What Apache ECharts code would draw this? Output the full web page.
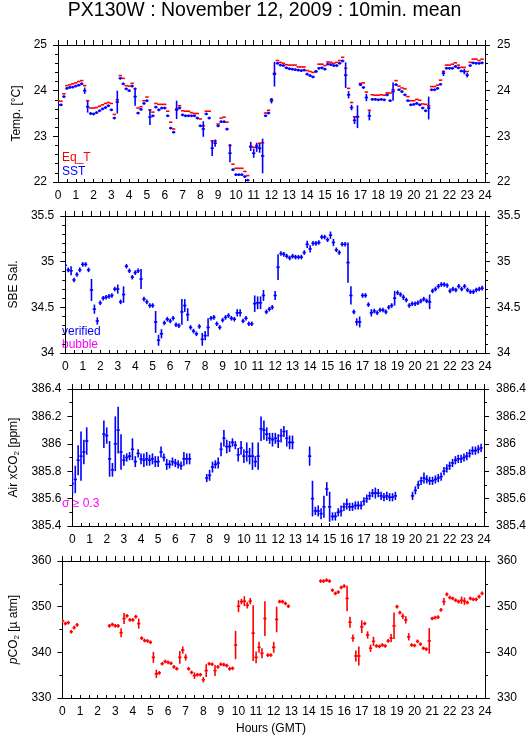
<!DOCTYPE html>
<html><head><meta charset="utf-8">
<script src="https://cdn.jsdelivr.net/npm/echarts@6/dist/echarts.min.js"></script>
<style>html,body{margin:0;padding:0;background:#fff}#c{width:529px;height:739px}</style>
</head><body><div id="c"></div>
<script>
// 10-minute means, index i -> hour i/6
const N = 144;
const hours = Array.from({length: N}, (_, i) => i / 6);

const eqT = [
 23.78,23.77,23.93,24.11,24.13,24.15, 24.17,24.2,24.22,24.11,23.78,23.62,
 23.62,23.63,23.66,23.69,23.72,23.74, 23.72,23.48,23.8,24.33,24.27,24.11,
 24.1,24.16,24.04,23.62,23.65,23.78, 23.86,23.58,23.53,23.72,23.7,23.7,
 23.7,23.55,23.31,23.16,23.6,23.67, 23.56,23.55,23.55,23.52,23.5,23.5,
 23.38,23.23,23.55,23.55,22.9,22.9, 23.27,23.4,23.42,23.31,22.8,22.39,
 22.3,22.3,22.3,22.23,22.14,22.77, 22.76,22.8,22.85,22.86,23.51,23.57,
 23.81,24.38,24.66,24.62,24.6,24.57, 24.56,24.56,24.56,24.52,24.52,24.52,
 24.44,24.42,24.4,24.42,24.58,24.58, 24.55,24.63,24.62,24.6,24.62,24.66,
 24.73,24.49,24.05,23.74,23.43,23.43, 24.16,24.17,23.97,23.57,23.91,23.9,
 23.9,23.91,23.9,23.95,23.95,24.02, 24.22,24.1,24.06,24.04,23.87,23.78,
 23.78,23.81,23.79,23.71,23.7,23.67, 24.09,24.09,24.12,24.23,24.42,24.56,
 24.56,24.58,24.61,24.56,24.51,24.51, 24.42,24.62,24.69,24.69,24.66,24.69
];
const sst = [
 23.69,23.69,23.87,24.05,24.07,24.08, 24.1,24.12,24.15,24.0,23.65,23.5,
 23.49,23.52,23.56,23.6,23.63,23.67, 23.58,23.4,23.75,24.27,24.15,24.04,
 24.0,24.1,23.87,23.51,23.59,23.72, 23.78,23.42,23.45,23.64,23.58,23.62,
 23.62,23.45,23.18,23.09,23.58,23.62, 23.47,23.45,23.45,23.45,23.45,23.4,
 23.23,23.16,23.49,23.4,22.74,22.85, 23.23,23.32,23.32,23.16,22.63,22.27,
 22.16,22.16,22.16,22.12,22.04,22.78, 22.63,22.76,22.74,22.57,23.45,23.51,
 23.78,24.36,24.6,24.56,24.55,24.5, 24.48,24.47,24.46,24.45,24.44,24.45,
 24.36,24.33,24.3,24.42,24.49,24.5, 24.47,24.58,24.57,24.55,24.55,24.6,
 24.65,24.34,23.91,23.63,23.35,23.43, 24.13,24.07,23.85,23.45,23.81,23.81,
 23.8,23.81,23.8,23.91,23.78,23.98, 24.13,24.02,23.98,23.91,23.78,23.69,
 23.7,23.72,23.69,23.62,23.56,23.62, 24.02,24.02,24.05,24.14,24.38,24.49,
 24.49,24.49,24.53,24.5,24.43,24.42, 24.34,24.55,24.61,24.6,24.6,24.61
];
const sstErr = [[9,0.07],[10,0.13],[20,0.25],[26,0.2],[31,0.17],[40,0.2],[49,0.17],[52,0.17],[53,0.08],
 [58,0.2],[65,0.1],[66,0.1],[67,0.1],[68,0.1],[69,0.38],[72,0.06],[73,0.27],[97,0.28],[98,0.08],[99,0.06],
 [100,0.08],[101,0.25],[104,0.08],[105,0.1],[113,0.2],[125,0.25],[130,0.06],[137,0.06],[138,0.05]];

const sal = [
 34.96,34.91,34.9,34.8,34.86,34.91, 34.97,34.97,34.91,34.69,34.48,34.35,
 34.55,34.6,34.61,34.62,34.63,34.7, 34.7,34.56,34.64,34.95,34.9,34.83,
 34.88,34.9,34.81,34.59,34.56,34.52, 34.52,34.34,34.14,34.21,34.33,34.37,
 34.35,34.38,34.31,34.3,34.45,34.52, 34.42,34.28,34.24,34.21,34.29,34.15,
 34.19,34.28,34.38,34.39,34.32,34.28, 34.36,34.39,34.41,34.38,34.37,34.44,
 34.44,34.35,34.38,34.32,34.32,34.54, 34.55,34.55,34.63,34.45,34.48,34.5,
 34.63,34.94,35.09,35.08,35.06,35.04, 35.06,35.05,35.05,35.05,35.1,35.19,
 35.14,35.2,35.2,35.21,35.27,35.27, 35.24,35.29,35.21,35.13,35.1,35.19,
 35.19,34.99,34.63,34.45,34.34,34.34, 34.63,34.63,34.53,34.44,34.46,34.44,
 34.47,34.47,34.45,34.5,34.52,34.6, 34.66,34.64,34.61,34.58,34.52,34.54,
 34.54,34.55,34.57,34.59,34.57,34.56, 34.68,34.7,34.73,34.75,34.75,34.74,
 34.68,34.7,34.69,34.73,34.7,34.73, 34.69,34.67,34.67,34.69,34.7,34.71
];
const salErr = [[2,0.05],[9,0.12],[10,0.05],[11,0.04],[18,0.05],[20,0.09],[26,0.11],[31,0.12],[32,0.06],[33,0.05],
 [40,0.14],[41,0.07],[42,0.07],[47,0.07],[48,0.05],[49,0.1],[59,0.04],[60,0.04],[65,0.09],[66,0.07],[67,0.07],[68,0.06],
 [72,0.05],[73,0.14],[83,0.04],[84,0.04],[91,0.04],[92,0.04],[97,0.22],[98,0.1],[100,0.04],[101,0.06],[105,0.04],
 [113,0.08],[116,0.03],[125,0.08]];

const airCO2 = [
 385.71,385.74,385.88,385.91,385.94,386.02, null,null,null,null,null,386.07,
 386.06,385.89,385.81,386.0,386.1,385.94, 385.88,385.9,385.91,385.96,385.87,385.93,
 385.89,385.88,385.89,385.88,385.89,385.87, 385.87,385.94,385.9,385.85,385.85,385.87,
 385.86,385.85,385.84,385.89,385.89,385.89, null,null,null,null,null,385.75,
 385.77,385.83,385.85,385.86,385.96,386.04, 385.98,385.98,386.01,385.99,385.92,385.97,
 385.91,385.94,385.91,385.91,385.87,385.91, 386.11,386.1,386.07,386.04,386.03,386.04,
 386.02,386.06,386.09,386.04,386.01,386.01, null,null,null,null,null,385.91,
 385.6,385.51,385.51,385.49,385.54,385.67, 385.54,385.47,385.47,385.5,385.51,385.54,
 385.56,385.54,385.54,385.55,385.55,385.55, 385.58,385.6,385.62,385.64,385.64,385.64,
 385.62,385.61,385.62,385.61,385.61,385.62, null,null,null,null,null,385.62,
 385.66,385.7,385.73,385.75,385.74,385.73, 385.73,385.74,385.75,385.76,385.8,385.82,
 385.84,385.86,385.88,385.89,385.89,385.9, 385.91,385.93,385.95,385.95,385.96,385.97
];
const airErr = [[0,0.08],[1,0.1],[2,0.11],[3,0.18],[4,0.09],[5,0.1],[11,0.1],[12,0.06],[13,0.13],[14,0.05],[15,0.2],
 [16,0.17],[17,0.13],[18,0.04],[21,0.08],[22,0.04],[24,0.04],[25,0.05],[26,0.05],[27,0.04],[28,0.04],[29,0.04],
 [30,0.04],[31,0.04],[33,0.04],[39,0.05],[40,0.04],[41,0.04],[48,0.04],[49,0.04],[51,0.04],[52,0.05],[53,0.06],
 [54,0.05],[55,0.04],[58,0.05],[59,0.05],[60,0.05],[61,0.07],[62,0.06],[63,0.1],[64,0.04],[65,0.1],[66,0.09],
 [67,0.07],[68,0.05],[69,0.04],[70,0.05],[71,0.04],[72,0.05],[73,0.05],[74,0.04],[75,0.06],[76,0.05],[77,0.05],
 [83,0.07],[84,0.13],[86,0.04],[87,0.04],[88,0.08],[89,0.05],[90,0.11],[94,0.04],[96,0.04],[106,0.04],[123,0.04]];

const pco2 = [
 346.9,346.3,346.5,344.5,345.4,346.0, null,null,null,null,null,null,
 null,null,null,null,345.8,346.1, 345.8,345.8,344.3,347.4,348.0,347.1,
 347.1,347.8,346.3,343.1,342.6,342.5, 342.2,338.9,335.3,335.5,337.5,338.0,
 337.8,337.6,336.8,336.4,338.9,340.5, 338.9,336.4,335.6,334.9,335.1,335.1,
 334.0,336.0,337.5,337.4,336.0,336.8, 337.4,337.3,337.1,336.4,336.5,341.6,
 350.1,351.1,351.2,350.3,351.2,344.2, 338.9,341.1,339.8,347.4,339.4,339.4,
 341.1,347.2,351.1,351.1,350.7,350.1, null,null,null,null,null,null,
 null,null,null,null,355.6,355.6, 355.8,355.6,353.6,352.9,353.2,354.2,
 354.5,351.8,346.6,343.1,339.2,339.2, 345.6,346.3,343.8,340.9,342.4,341.4,
 341.3,341.6,341.4,342.5,343.1,345.8, 350.0,348.7,347.9,347.1,343.4,341.6,
 341.5,342.4,341.8,340.9,340.7,342.5, 347.4,347.6,347.7,349.3,351.1,352.7,
 352.0,351.8,351.4,351.1,351.4,351.2, 350.9,351.8,351.6,351.6,352.2,352.9
];
const pco2Err = [[20,1.0],[21,1.2],[26,1.1],[31,1.2],[32,0.9],[40,1.4],[41,0.8],[42,0.7],[45,0.7],[48,0.6],[49,1.4],
 [52,1.2],[59,3.1],[60,1.3],[61,0.6],[62,1.1],[63,0.7],[64,0.7],[65,6.1],[66,1.3],[67,1.2],[68,1.1],[69,3.8],
 [72,1.2],[73,2.8],[97,2.8],[98,1.2],[99,0.8],[100,1.2],[101,2.1],[102,1.4],[104,0.8],[105,0.8],[106,1.0],
 [112,0.9],[113,2.9],[116,0.6],[117,0.8],[118,0.8],[125,2.8],[130,0.8],[136,0.8],[137,0.8]];

function points(vals, errDefault, errPairs) {
  const em = {};
  errPairs.forEach(p => { em[p[0]] = p[1]; });
  const out = [];
  vals.forEach((v, i) => {
    if (v !== null && v !== undefined) out.push([hours[i], v, em[i] !== undefined ? em[i] : errDefault]);
  });
  return out;
}

const HALF = 0.095; // half width of each 10-min mark, hours
function marker(color) {
  return function (params, api) {
    const t = api.value(0), v = api.value(1), e = api.value(2);
    const a = api.coord([t - HALF, v]), b = api.coord([t + HALF, v]);
    const c = api.coord([t, v - e]), d = api.coord([t, v + e]);
    const st = {stroke: color, lineWidth: 1.6};
    const ch = [{type: 'line', shape: {x1: a[0], y1: a[1], x2: b[0], y2: b[1]}, style: st}];
    if (e > 0) ch.push({type: 'line', shape: {x1: c[0], y1: c[1], x2: d[0], y2: d[1]}, style: st});
    return {type: 'group', children: ch};
  };
}

const FONT = 'Liberation Sans, Arial, Helvetica, sans-serif';
const tops = [45, 216, 389, 561];
const heights = [137, 137, 137, 137];
const yDefs = [
  {min: 22, max: 25, interval: 1, minor: 5, name: 'Temp. [°C]', gap: 28, dec: 0},
  {min: 34, max: 35.5, interval: 0.5, minor: 5, name: 'SBE Sal.', gap: 40, dec: 1},
  {min: 385.4, max: 386.4, interval: 0.2, minor: 2, name: '{n|Air xCO}{s|2}{n| [ppm]}', gap: 44, dec: 1},
  {min: 330, max: 360, interval: 10, minor: 2, name: '{i|p}{n|CO}{s|2}{n| [µ atm]}', gap: 30, dec: 0}
];

function fmt(v, d) {
  const s = (+v).toFixed(d);
  return d > 0 && s.endsWith('.0') ? s.slice(0, -2) : s;
}

const grid = [], xAxis = [], yAxis = [];
const black = '#000';
tops.forEach((t, k) => {
  grid.push({left: 58, right: 44, top: t, height: heights[k], containLabel: false});
  xAxis.push({type: 'value', gridIndex: k, min: 0, max: 24, interval: 1, position: 'bottom',
    axisLine: {onZero: false, lineStyle: {color: black, width: 1}},
    axisTick: {inside: true, length: 3, lineStyle: {color: black}},
    minorTick: {show: true, splitNumber: 2, length: 3, lineStyle: {color: black}},
    axisLabel: {color: black, fontSize: 12, fontFamily: FONT, margin: 8},
    splitLine: {show: false}});
  xAxis.push({type: 'value', gridIndex: k, min: 0, max: 24, interval: 1, position: 'top',
    axisLine: {onZero: false, lineStyle: {color: black, width: 1}},
    axisTick: {inside: false, length: 5, lineStyle: {color: black}},
    minorTick: {show: true, splitNumber: 2, length: 5, lineStyle: {color: black}},
    axisLabel: {show: false}, splitLine: {show: false}});
  const y = yDefs[k];
  const common = {type: 'value', gridIndex: k, min: y.min, max: y.max, interval: y.interval,
    axisLine: {show: true, onZero: false, lineStyle: {color: black, width: 1}},
    axisTick: {inside: false, length: 5, lineStyle: {color: black}},
    minorTick: {show: true, splitNumber: y.minor, length: 3, lineStyle: {color: black}},
    splitLine: {show: false}};
  yAxis.push(Object.assign({}, common, {position: 'left',
    axisLabel: {color: black, fontSize: 12, fontFamily: FONT, margin: 11, formatter: v => fmt(v, y.dec)},
    name: y.name, nameLocation: 'middle', nameGap: y.gap, nameRotate: 90,
    nameTextStyle: {color: black, fontSize: 12, fontFamily: FONT,
      rich: {n: {fontSize: 12, fontFamily: FONT, color: black},
             i: {fontSize: 12, fontFamily: FONT, fontStyle: 'italic', color: black},
             s: {fontSize: 8, fontFamily: FONT, color: black, padding: [5, 0, 0, 0]}}}}));
  yAxis.push(Object.assign({}, common, {position: 'right',
    axisLabel: {color: black, fontSize: 12, fontFamily: FONT, margin: 12, formatter: v => fmt(v, y.dec)}}));
});

function series(data, k, color) {
  return {type: 'custom', xAxisIndex: 2 * k, yAxisIndex: 2 * k, clip: true,
    renderItem: marker(color), data: data, encode: {x: 0, y: 1}, silent: true, animation: false};
}

const option = {
  animation: false,
  backgroundColor: '#fff',
  grid, xAxis, yAxis,
  series: [
    series(points(eqT, 0, []), 0, '#ff0000'),
    series(points(sst, 0.03, sstErr), 0, '#0000ff'),
    series(points(sal, 0.025, salErr), 1, '#0000ff'),
    series(points(airCO2, 0.03, airErr), 2, '#0000ff'),
    series(points(pco2, 0.4, pco2Err), 3, '#ff0000')
  ],
  graphic: [
    {type: 'text', left: 'center', top: 1, style: {text: 'PX130W : November 12, 2009 : 10min. mean', font: '19.5px ' + FONT, fill: black}},
    {type: 'text', x: 271, y: 729, style: {text: 'Hours (GMT)', font: '12px ' + FONT, fill: black, align: 'center', verticalAlign: 'middle'}},
    {type: 'text', x: 62, y: 158, style: {text: 'Eq_T', font: '12px ' + FONT, fill: '#ff0000', verticalAlign: 'middle'}},
    {type: 'text', x: 62, y: 172, style: {text: 'SST', font: '12px ' + FONT, fill: '#0000ff', verticalAlign: 'middle'}},
    {type: 'text', x: 62, y: 332, style: {text: 'verified', font: '12px ' + FONT, fill: '#0000ff', verticalAlign: 'middle'}},
    {type: 'text', x: 62, y: 345, style: {text: 'bubble', font: '12px ' + FONT, fill: '#ff00ff', verticalAlign: 'middle'}},
    {type: 'text', x: 62, y: 504, style: {text: 'σ ≥ 0.3', font: '12px ' + FONT, fill: '#ff00ff', verticalAlign: 'middle'}}
  ]
};
const chart = echarts.init(document.getElementById('c'), null, {renderer: 'canvas'});
chart.setOption(option);
</script></body></html>
